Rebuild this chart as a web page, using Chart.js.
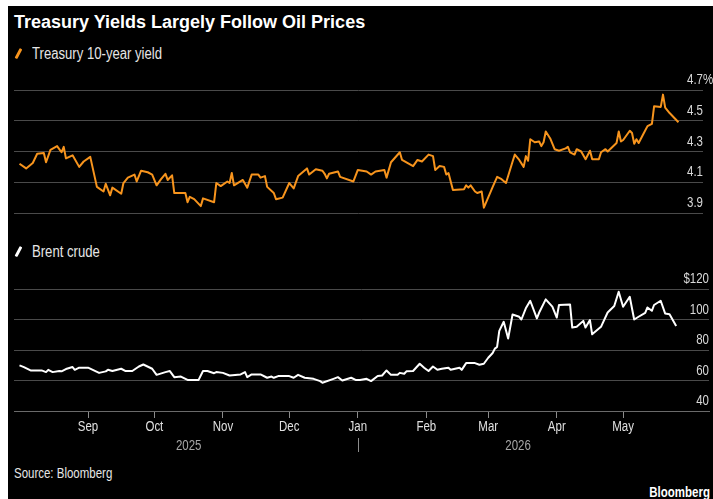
<!DOCTYPE html>
<html>
<head>
<meta charset="utf-8">
<script src="https://cdn.jsdelivr.net/npm/chart.js@4.4.1/dist/chart.umd.min.js"></script>
<style>
  html, body { margin: 0; padding: 0; background: #fff; }
  #wrap { position: absolute; left: 0; top: 0; width: 713px; height: 499px; background: #fff; overflow: hidden; }
  #panel { position: absolute; left: 8px; top: 6px; width: 705px; height: 493px; background: #000; }
  .txt { position: absolute; white-space: nowrap; color: #fff; }
  .narrow { transform: scaleX(0.82); transform-origin: left center; }
  #title { left: 14px; top: 13px; font: bold 18px/18px "Liberation Sans", Arial, sans-serif; }
  .legend { left: 32px; font: 16px/16px "Liberation Sans", Arial, sans-serif; color: #e6e6e6; }
  .slash { position: absolute; width: 2.5px; height: 11px; transform: rotate(28deg); border-radius: 1px; }
  #source { left: 14px; top: 466px; font: 14px/14px "Liberation Sans", Arial, sans-serif; color: #e6e6e6; }
  #brand { right: 3px; top: 485px; font: bold 14px/14px "Liberation Sans", Arial, sans-serif; transform: scaleX(0.82); transform-origin: right center; }
  canvas { position: absolute; left: 0; }
</style>
</head>
<body>
<div id="wrap">
  <div id="panel"></div>
  <div class="txt" id="title">Treasury Yields Largely Follow Oil Prices</div>
  <div class="slash" style="left:17px;top:48px;background:#f7941d;"></div>
  <div class="txt legend narrow" style="top:46px;">Treasury 10-year yield</div>
  <div class="slash" style="left:17px;top:246px;background:#fff;"></div>
  <div class="txt legend narrow" style="top:244px;">Brent crude</div>
  <canvas id="yieldChart" width="713" height="160" style="top:62px;"></canvas>
  <canvas id="brentChart" width="713" height="192" style="top:268px;"></canvas>
  <div class="txt narrow" id="source">Source: Bloomberg</div>
  <div class="txt" id="brand">Bloomberg</div>
</div>
<script>
// days counted from 2025-08-01
const yieldDays = [0, 3, 6, 8, 11, 12, 14, 17, 19, 20, 21, 24, 27, 29, 32, 35, 38, 39, 41, 42, 46, 47, 49, 52, 53, 55, 58, 60, 62, 64, 66, 67, 69, 70, 75, 76, 77, 79, 82, 83, 88, 89, 91, 94, 95, 96, 97, 101, 103, 105, 108, 109, 111, 112, 115, 116, 119, 122, 124, 126, 130, 131, 134, 137, 138, 139, 140, 144, 145, 151, 153,
  157, 159, 161, 165, 166, 168, 172, 173, 178, 180, 182, 185, 187, 188, 190, 192, 193, 194, 196, 201, 202, 203, 204, 206, 207, 209, 210, 214, 216, 218, 220, 223, 224, 226, 228, 229, 230, 231, 233, 235, 236, 237, 238, 240, 242, 244, 247, 248, 249, 251, 252, 254, 256, 258, 259, 262, 263, 265, 266, 270, 271, 272, 273, 276, 277, 278, 279, 280, 282, 284, 286, 287, 290, 291, 292, 294, 298];
const yieldValues = [4.22, 4.19, 4.225, 4.285, 4.29, 4.23, 4.31, 4.335, 4.295, 4.33, 4.255, 4.275, 4.2, 4.235, 4.265, 4.07, 4.04, 4.09, 4.015, 4.065, 4.025, 4.095, 4.13, 4.15, 4.105, 4.175, 4.165, 4.15, 4.08, 4.12, 4.155, 4.115, 4.145, 4.03, 4.03, 3.97, 4.005, 3.99, 3.945, 3.995, 3.97, 4.095, 4.075, 4.105, 4.095, 4.16, 4.08, 4.115, 4.065, 4.15, 4.15, 4.13, 4.14, 4.07, 4.03, 3.99, 4.0, 4.095, 4.06, 4.14, 4.19, 4.15, 4.185, 4.175, 4.155, 4.125, 4.155, 4.17, 4.135, 4.105, 4.18,
  4.17, 4.15, 4.17, 4.18, 4.13, 4.23, 4.295, 4.245, 4.205, 4.245, 4.235, 4.28, 4.27, 4.18, 4.205, 4.2, 4.15, 4.16, 4.05, 4.055, 4.08, 4.065, 4.08, 4.04, 4.03, 4.04, 3.935, 4.07, 4.135, 4.12, 4.095, 4.235, 4.28, 4.245, 4.2, 4.27, 4.24, 4.38, 4.36, 4.365, 4.335, 4.36, 4.43, 4.385, 4.315, 4.305, 4.32, 4.33, 4.295, 4.28, 4.315, 4.3, 4.25, 4.305, 4.25, 4.25, 4.295, 4.315, 4.3, 4.355, 4.43, 4.365, 4.375, 4.435, 4.42, 4.35, 4.38, 4.355, 4.41, 4.465, 4.48, 4.595, 4.59, 4.67, 4.585, 4.55, 4.49];

const brentDays = [0, 2, 5, 10, 12, 13, 15, 18, 19, 21, 24, 25, 27, 31, 36, 39, 40, 42, 46, 48, 51, 54, 56, 60, 62, 66, 68, 70, 73, 76, 81, 83, 85, 88, 89, 92, 95, 100, 102, 103, 105, 109, 112, 114, 115, 117, 122, 124, 126, 129, 133, 136, 137, 142, 144, 146, 150, 152, 154,
  157, 159, 162, 164, 166, 168, 171, 172, 174, 175, 178, 181, 183, 185, 187, 189, 191, 194, 195, 199, 200, 202, 206, 208, 210, 212, 214, 215, 216, 217, 219, 221, 223, 226, 227, 229, 231, 234, 235, 238, 241, 243, 244, 249, 250, 252, 255, 256, 258, 259, 263, 266, 269, 271, 273, 276, 278, 280, 283, 284, 286, 287, 290, 292, 294, 297];
const brentValues = [69.9, 68.8, 66.6, 66.6, 65.5, 67, 65.5, 66.2, 66, 67.5, 68.8, 67, 68.4, 68.4, 65, 66, 67, 66.2, 67.7, 66.2, 66.2, 69.2, 70.5, 67.7, 63.7, 65.5, 66.2, 62.2, 62.6, 60.4, 60.4, 66.2, 66.2, 64.8, 65.5, 65, 63.3, 64, 65.5, 62.2, 64, 64, 61.8, 62.6, 61.8, 62.9, 62.9, 61.8, 63.7, 61.8, 61.1, 59.6, 58.5, 61.1, 62.2, 60, 61.8, 60.4, 60.4,
  61.1, 59.6, 62.9, 63.3, 66.6, 63.7, 63.7, 65, 64.4, 66, 66.2, 71, 68.4, 66.2, 69.2, 67, 67.7, 68.4, 67, 68.4, 67, 71.4, 71.4, 70.3, 71, 74.9, 78, 80.9, 82, 92.5, 98.5, 87.5, 103.3, 101.8, 100, 107.3, 112.3, 100.7, 104.4, 113.2, 108.4, 101.3, 109.5, 109.9, 94.7, 95.2, 99.1, 94.7, 99.6, 90.3, 95.2, 104.6, 108.8, 118.2, 108.4, 114.9, 100, 101.8, 104.4, 107.9, 105.7, 109.5, 112.3, 104, 103.5, 95.8];

const yieldTicks = [3.9, 4.1, 4.3, 4.5, 4.7];
const yieldTickLabels = ['3.9', '4.1', '4.3', '4.5', '4.7'];
const brentTicks = [40, 60, 80, 100, 120];
const brentTickLabels = ['40', '60', '80', '100', '$120'];

const monthStarts = [31, 61, 92, 122, 153, 184, 212, 243, 273];
const monthLabels = ['Sep', 'Oct', 'Nov', 'Dec', 'Jan', 'Feb', 'Mar', 'Apr', 'May'];
const yearLabels = ['2025', '2026'];
const yearBreak = 153;
const lastDay = 298;

const gridColor = '#4a4a4a';

function toPoints(days, vals) {
  return days.map((d, i) => ({ x: d, y: vals[i] }));
}

// no condensed face installed, so squeeze the regular one
function narrowText(ctx, text, x, y, align) {
  ctx.save();
  ctx.translate(x, y);
  ctx.scale(0.82, 1);
  ctx.textAlign = align;
  ctx.fillText(text, 0, 0);
  ctx.restore();
}

// value labels sit above their gridline, at the right edge
const rightLabels = {
  id: 'rightLabels',
  afterDraw(chart, args, opts) {
    const { ctx, chartArea } = chart;
    const scale = chart.scales.y;
    ctx.save();
    ctx.font = '14px "Liberation Sans", Arial, sans-serif';
    ctx.fillStyle = '#d9d9d9';
    ctx.textBaseline = 'alphabetic';
    opts.values.forEach((v, i) => {
      const py = scale.getPixelForValue(v) - 6;
      narrowText(ctx, opts.labels[i], chartArea.right, py, 'right');
      if (opts.suffix && i === opts.values.length - 1) {
        narrowText(ctx, opts.suffix, chartArea.right, py, 'left');
      }
    });
    ctx.restore();
  }
};

const dateRow = {
  id: 'dateRow',
  afterDraw(chart) {
    const { ctx } = chart;
    const x = chart.scales.x;
    ctx.save();
    ctx.font = '14px "Liberation Sans", Arial, sans-serif';
    ctx.textBaseline = 'alphabetic';
    ctx.fillStyle = '#e0e0e0';
    monthStarts.forEach((d, i) => {
      narrowText(ctx, monthLabels[i], x.getPixelForValue(d), 163, 'center');
    });
    const mids = [(0 + yearBreak) / 2, (yearBreak + lastDay) / 2];
    ctx.fillStyle = '#a6a6a6';
    yearLabels.forEach((lab, i) => {
      narrowText(ctx, lab, x.getPixelForValue(mids[i]), 182, 'center');
    });
    const bx = Math.round(x.getPixelForValue(yearBreak)) + 0.5;
    ctx.strokeStyle = '#8c8c8c';
    ctx.lineWidth = 1;
    ctx.beginPath();
    ctx.moveTo(bx, 170);
    ctx.lineTo(bx, 184);
    ctx.stroke();
    ctx.restore();
  }
};

function yScale(ticks, min, max) {
  return {
    position: 'right',
    min: min,
    max: max,
    afterBuildTicks: s => { s.ticks = ticks.map(v => ({ value: v })); },
    ticks: { display: false },
    grid: { color: gridColor, lineWidth: 1, drawTicks: false },
    border: { display: false }
  };
}

const yieldChart = new Chart(document.getElementById('yieldChart'), {
  type: 'line',
  data: {
    datasets: [{
      data: toPoints(yieldDays, yieldValues),
      borderColor: '#f7941d',
      borderWidth: 2,
      pointRadius: 0,
      tension: 0,
      borderJoinStyle: 'round'
    }]
  },
  options: {
    responsive: false,
    animation: false,
    parsing: false,
    layout: { padding: { left: 14, right: 10, top: 28, bottom: 9 } },
    plugins: {
      legend: { display: false },
      tooltip: { enabled: false },
      rightLabels: { values: yieldTicks, labels: yieldTickLabels, suffix: '%' }
    },
    scales: {
      x: { type: 'linear', display: false, min: -2.49, max: 309.1 },
      y: yScale(yieldTicks, 3.9, 4.7)
    }
  },
  plugins: [rightLabels]
});

const brentChart = new Chart(document.getElementById('brentChart'), {
  type: 'line',
  data: {
    datasets: [{
      data: toPoints(brentDays, brentValues),
      borderColor: '#ffffff',
      borderWidth: 2,
      pointRadius: 0,
      tension: 0,
      borderJoinStyle: 'round'
    }]
  },
  options: {
    responsive: false,
    animation: false,
    parsing: false,
    layout: { padding: { left: 14, right: 4, top: 21, bottom: 0 } },
    plugins: {
      legend: { display: false },
      tooltip: { enabled: false },
      rightLabels: { values: brentTicks, labels: brentTickLabels }
    },
    scales: {
      x: {
        type: 'linear',
        min: -2.49,
        max: 311.85,
        afterBuildTicks: s => { s.ticks = monthStarts.map(v => ({ value: v })); },
        afterFit: s => { s.height = 49; },
        ticks: { display: false },
        grid: { drawOnChartArea: false, drawTicks: true, tickLength: 7, tickColor: '#8c8c8c' },
        border: { display: true, color: '#6a6a6a' }
      },
      y: yScale(brentTicks, 40, 120)
    }
  },
  plugins: [rightLabels, dateRow]
});
</script>
</body>
</html>
